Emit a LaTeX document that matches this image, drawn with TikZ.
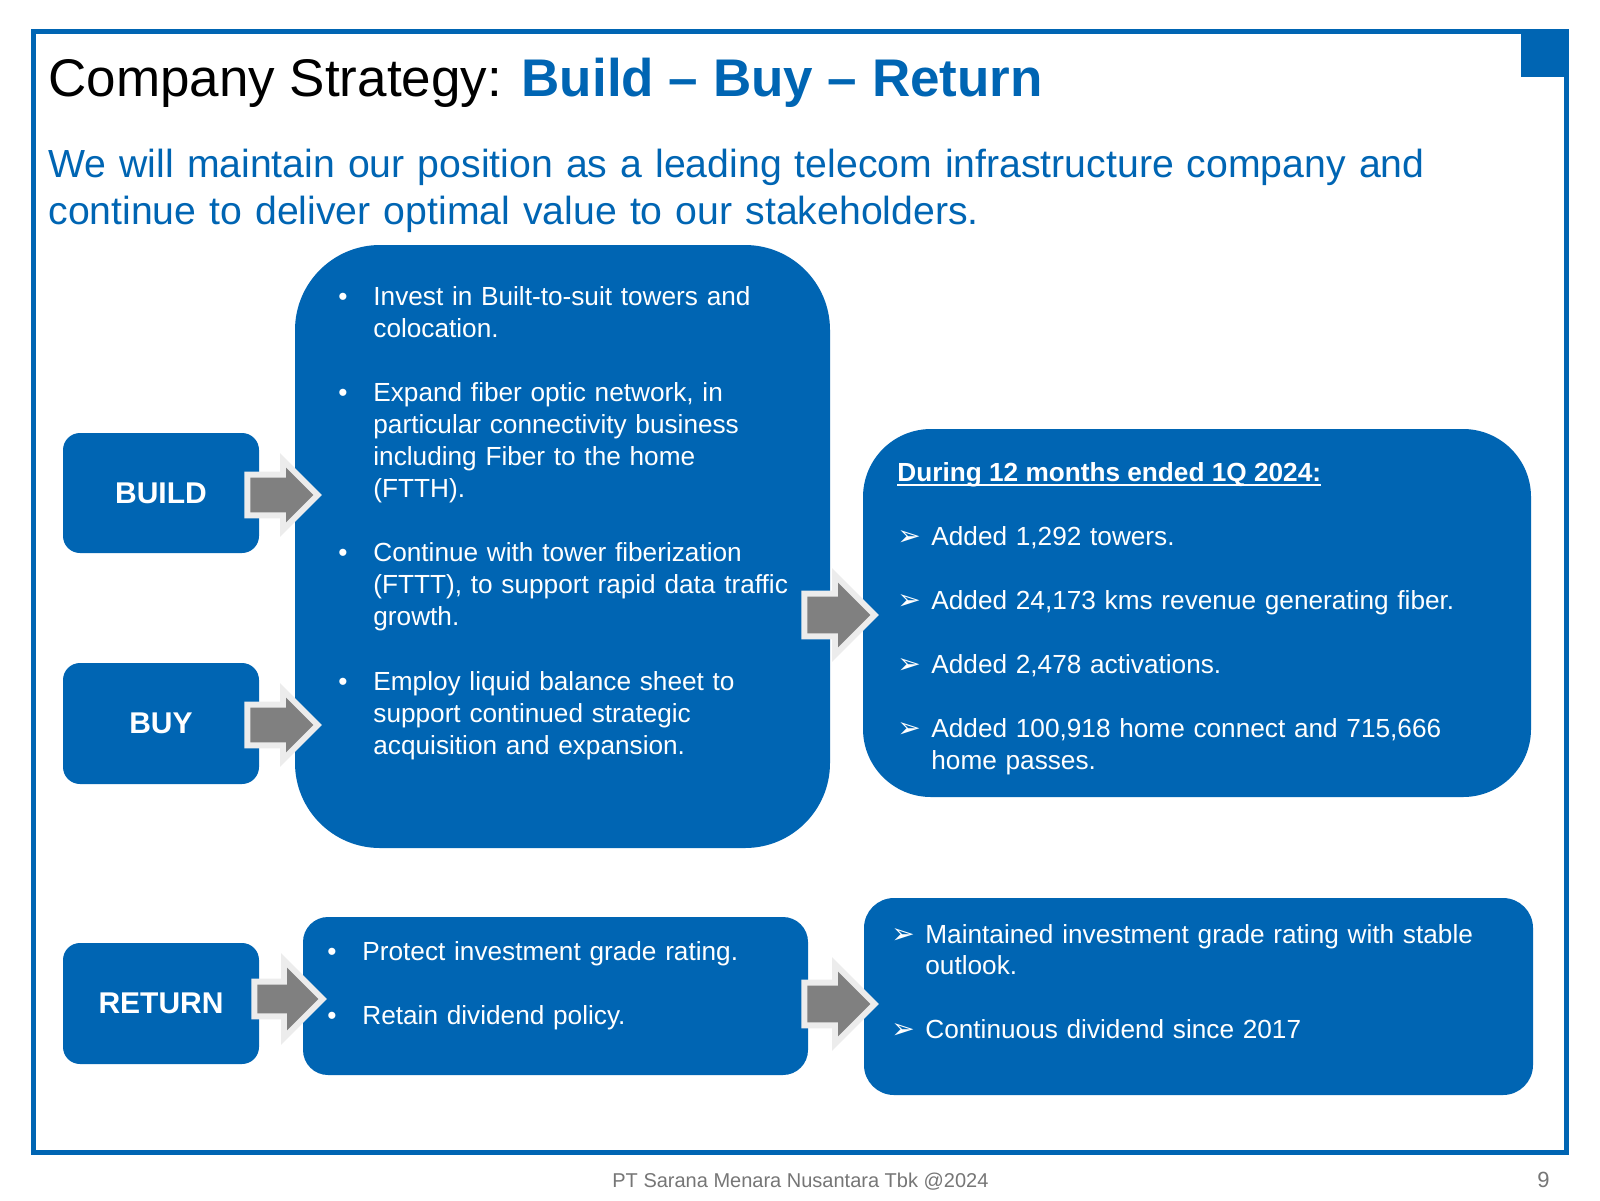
\documentclass[tikz,border=0pt]{standalone}
\usepackage{fontspec}
\setmainfont{Liberation Sans}
\newfontfamily\dingfont{DejaVu Sans}
\usetikzlibrary{shapes.arrows}
\definecolor{smblue}{RGB}{0,101,179}
\definecolor{arrgrey}{RGB}{128,128,128}
\definecolor{arredge}{RGB}{236,236,236}
\definecolor{footgrey}{RGB}{118,118,118}
\begin{document}
\begin{tikzpicture}[x=0.5pt,y=-0.5pt,
  box/.style={rectangle, fill=smblue, draw=none, inner sep=0pt},
  lbl/.style={box, font=\fontsize{15}{18}\selectfont\bfseries, text=white},
  body/.style={inner sep=0pt, anchor=base west, text=white, font=\fontsize{13.1}{16.1}\selectfont, text width=300pt, align=left},
  bul/.style={inner sep=0pt, anchor=base west, text=white, font=\fontsize{13.1}{16.1}\selectfont},
  tri/.style={inner sep=0pt, anchor=base west, text=white, font=\dingfont\fontsize{14}{16.1}\selectfont},
  blockarrow/.style={single arrow, inner xsep=0pt, fill=arrgrey, draw=none,
    preaction={draw=arredge, line width=6pt, line join=miter}, anchor=tail},
]
\useasboundingbox (0,0) rectangle (1600,1200);
\fill[white] (0,0) rectangle (1600,1200);

% frame
\draw[smblue, line width=2.5pt] (33,31) rectangle (1566,1152);
\fill[smblue] (1521,29) rectangle (1567,77);

% title
\node[anchor=base west, inner sep=0pt, font=\fontsize{26.5}{32}\selectfont] (title) at (48,96)
  {Company Strategy: \textcolor{smblue}{\bfseries Build – Buy – Return}};
\node[anchor=base west, inner sep=0pt, text width=750pt, align=left, text=smblue,
  font=\fontsize{19.6}{23.5}\selectfont] (sub) at (48,177)
  {We will maintain our position as a leading telecom infrastructure company and\\continue to deliver optimal value to our stakeholders.};

% boxes
\node[lbl, rounded corners=8.5pt, minimum width=98pt, minimum height=60pt] (build) at (161,493) {BUILD};
\node[lbl, rounded corners=8.5pt, minimum width=98pt, minimum height=60.5pt] (buy) at (161,723.5) {BUY};
\node[lbl, rounded corners=8.5pt, minimum width=98pt, minimum height=60.5pt] (ret) at (161,1003.5) {RETURN};
\node[box, rounded corners=42.5pt, minimum width=267.5pt, minimum height=301.5pt] (center) at (562.5,546.5) {};
\node[box, rounded corners=34pt, minimum width=334pt, minimum height=184pt] (rtop) at (1197,613) {};
\node[box, rounded corners=12.5pt, minimum width=252.5pt, minimum height=79pt] (rmid) at (555.5,996) {};
\node[box, rounded corners=15pt, minimum width=334.5pt, minimum height=98.5pt] (rret) at (1198.5,996.5) {};

% block arrows
\node[blockarrow, minimum height=31.5pt, inner ysep=8.5pt, single arrow head extend=5pt] (a1) at (250,495) {};
\node[blockarrow, minimum height=31.5pt, inner ysep=8.5pt, single arrow head extend=5pt] (a2) at (250,725) {};
\node[blockarrow, minimum height=30.5pt, inner ysep=7pt, single arrow head extend=8.5pt] (a3) at (257,999) {};
\node[blockarrow, minimum height=31.5pt, inner ysep=9pt, single arrow head extend=7pt] (a4) at (807,615) {};
\node[blockarrow, minimum height=31.5pt, inner ysep=9pt, single arrow head extend=7pt] (a5) at (807,1004) {};

% center box text
\node[bul] (b1) at (338,305) {•};
\node[body] (t1) at (373,305) {Invest in Built-to-suit towers and\\colocation.};
\node[bul] (b2) at (338,401) {•};
\node[body] (t2) at (373,401) {Expand fiber optic network, in\\particular connectivity business\\including Fiber to the home\\(FTTH).};
\node[bul] (b3) at (338,561) {•};
\node[body] (t3) at (373,561) {Continue with tower fiberization\\(FTTT), to support rapid data traffic\\growth.};
\node[bul] (b4) at (338,690) {•};
\node[body] (t4) at (373,690) {Employ liquid balance sheet to\\support continued strategic\\acquisition and expansion.};

% right top box text
\node[bul, font=\fontsize{13.1}{16.1}\selectfont\bfseries] (hdr) at (897,481) {During 12 months ended 1Q 2024:};
\draw[white, line width=1pt] ([yshift=-2pt]hdr.base west) -- ([yshift=-2pt]hdr.base east);
\node[tri] (r1) at (897,545) {➢};
\node[body] (s1) at (931,545) {Added 1,292 towers.};
\node[tri] (r2) at (897,609) {➢};
\node[body] (s2) at (931,609) {Added 24,173 kms revenue generating fiber.};
\node[tri] (r3) at (897,673) {➢};
\node[body] (s3) at (931,673) {Added 2,478 activations.};
\node[tri] (r4) at (897,737) {➢};
\node[body] (s4) at (931,737) {Added 100,918 home connect and 715,666\\home passes.};

% return middle text
\node[bul] (m1) at (327,960) {•};
\node[body] (u1) at (362,960) {Protect investment grade rating.};
\node[bul] (m2) at (327,1024) {•};
\node[body] (u2) at (362,1024) {Retain dividend policy.};

% return right text
\node[tri] (q1) at (891,943) {➢};
\node[body, font=\fontsize{13.1}{15.5}\selectfont] (v1) at (925,943) {Maintained investment grade rating with stable\\outlook.};
\node[tri] (q2) at (891,1038) {➢};
\node[body] (v2) at (925,1038) {Continuous dividend since 2017};

% footer
\node[anchor=base west, inner sep=0pt, text=footgrey, font=\fontsize{10}{12}\selectfont] (foot) at (612,1187) {PT Sarana Menara Nusantara Tbk @2024};
\node[anchor=base west, inner sep=0pt, text=footgrey, font=\fontsize{11}{12}\selectfont] (pg) at (1537,1187) {9};
\end{tikzpicture}
\end{document}
